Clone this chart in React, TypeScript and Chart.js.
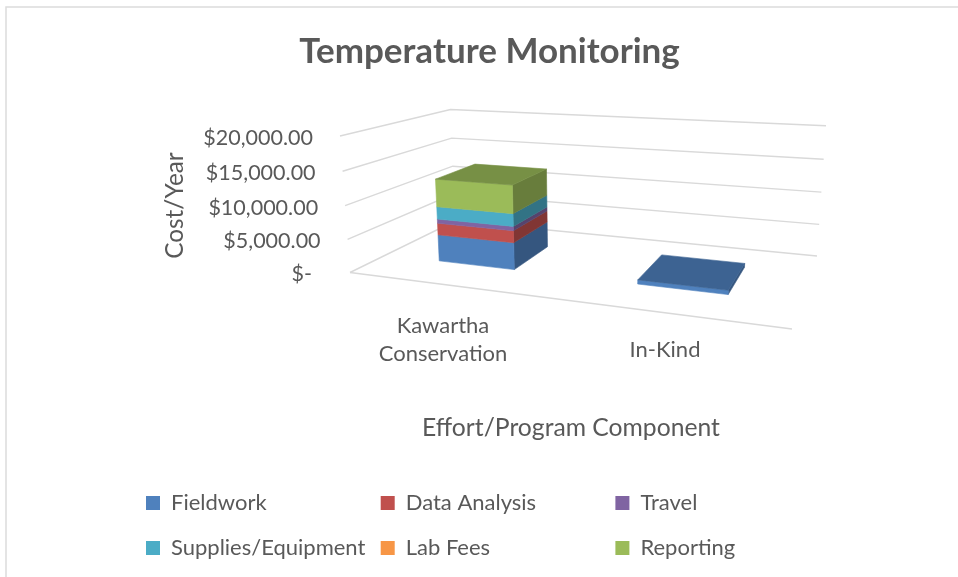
import { useEffect, useRef } from "react";
import { Chart, registerables } from "chart.js";

Chart.register(...registerables);

const categories: (string | string[])[] = [["Kawartha", "Conservation"], "In-Kind"];
const fieldwork = [4100, 600];
const dataAnalysis = [1800, 0];
const travel = [650, 0];
const supplies = [1900, 0];
const labFees = [0, 0];
const reporting = [4200, 0];
const yTicks = [0, 5000, 10000, 15000, 20000];
const legendColumns = 3;

const GRID = "#d9d9d9";
const TEXT = "#595959";
const FONT = "Lato";

type P = [number, number];
const floorCorners: P[] = [[350, 272.5], [792, 329], [817, 256], [455, 221]];
const verticalAxis = [-23.6, -141.9, -0.04];
const depthRange: P = [0.3, 0.7];

function cameraFrom(q: P[]) {
  const [[x0, y0], [x1, y1], [x2, y2], [x3, y3]] = q;
  const dx1 = x1 - x2, dx2 = x3 - x2, sx = x0 - x1 + x2 - x3;
  const dy1 = y1 - y2, dy2 = y3 - y2, sy = y0 - y1 + y2 - y3;
  const den = dx1 * dy2 - dx2 * dy1;
  const g = (sx * dy2 - dx2 * sy) / den;
  const h = (dx1 * sy - sx * dy1) / den;
  const a = x1 - x0 + g * x1, b = x3 - x0 + h * x3;
  const d = y1 - y0 + g * y1, e = y3 - y0 + h * y3;
  const [cx, cy, ci] = verticalAxis;
  return (u: number, w: number, v: number): P => {
    const k = g * u + h * w + 1 + ci * v;
    return [(a * u + b * w + x0 + cx * v) / k, (d * u + e * w + y0 + cy * v) / k];
  };
}
const project = cameraFrom(floorCorners);

function shade(hex: string, k: number) {
  const n = parseInt(hex.slice(1), 16);
  const c = [(n >> 16) & 255, (n >> 8) & 255, n & 255].map((x) => Math.round(x * k));
  return `rgb(${c[0]},${c[1]},${c[2]})`;
}

function poly(ctx: CanvasRenderingContext2D, pts: P[], fill: string) {
  ctx.beginPath();
  pts.forEach((p, i) => (i ? ctx.lineTo(p[0], p[1]) : ctx.moveTo(p[0], p[1])));
  ctx.closePath();
  ctx.fillStyle = fill;
  ctx.strokeStyle = fill;
  ctx.lineWidth = 0.6;
  ctx.fill();
  ctx.stroke();
}

const perspectivePlugin = {
  id: "perspective",
  afterLayout(chart: any) {
    // centre the chart title and the category-axis title where the reference has them
    chart.titleBlock.left += 21;
    chart.titleBlock.right += 21;
    chart.scales.x.left += 17;
    chart.scales.x.right += 17;
  },
  beforeDraw(chart: any) {
    const { ctx, width, height, chartArea: a, scales } = chart;
    ctx.save();
    ctx.fillStyle = "#ffffff";
    ctx.fillRect(0, 0, width, height);
    ctx.strokeStyle = "#dcdcdc";
    ctx.lineWidth = 1.5;
    ctx.beginPath();
    ctx.moveTo(width, 7);
    ctx.lineTo(6, 7);
    ctx.lineTo(6, height);
    ctx.stroke();
    ctx.restore();
    // value labels follow the leaning front edge of the left wall
    scales.y.getLabelItems(a).forEach((item: any, i: number) => {
      const v = (a.bottom - scales.y.getPixelForValue(scales.y.ticks[i].value)) / (a.bottom - a.top);
      const p = project(0, 0, v);
      item.options.translation = [p[0] - 27, p[1] + 2];
    });
    // the single-line category label sits on the front-edge slope, lower than the first
    const xItems = scales.x.getLabelItems(a);
    const last = xItems[xItems.length - 1];
    last.options.translation = [last.options.translation[0], last.options.translation[1] + 24];
  },
  beforeDatasetsDraw(chart: any) {
    const { ctx, chartArea: a, scales } = chart;
    const toU = (x: number) => (x - a.left) / (a.right - a.left);
    const toV = (y: number) => (a.bottom - y) / (a.bottom - a.top);
    ctx.save();
    // walls and floor
    ctx.strokeStyle = GRID;
    ctx.lineWidth = 1.4;
    scales.y.ticks.forEach((t: any) => {
      const v = toV(scales.y.getPixelForValue(t.value));
      const pts = [project(0, 0, v), project(0, 1, v), project(1, 1, v)];
      ctx.beginPath();
      pts.forEach((p, i) => (i ? ctx.lineTo(p[0], p[1]) : ctx.moveTo(p[0], p[1])));
      ctx.stroke();
    });
    const fl = project(0, 0, 0);
    const fr = project(1, 0, 0);
    ctx.beginPath();
    ctx.moveTo(fl[0], fl[1]);
    ctx.lineTo(fr[0], fr[1]);
    ctx.stroke();
    // bars
    const [w0, w1] = depthRange;
    const dsCount = chart.data.datasets.length;
    chart.data.labels.forEach((_: any, i: number) => {
      let last = -1;
      for (let k = 0; k < dsCount; k++) if (chart.data.datasets[k].data[i] > 0) last = k;
      for (let k = 0; k < dsCount; k++) {
        if (!(chart.data.datasets[k].data[i] > 0)) continue;
        const el = chart.getDatasetMeta(k).data[i];
        const color = chart.data.datasets[k].backgroundColor;
        const u0 = toU(el.x - el.width / 2);
        const u1 = toU(el.x + el.width / 2);
        const vb = toV(el.base);
        const vt = toV(el.y);
        poly(ctx, [project(u1, w0, vb), project(u1, w1, vb), project(u1, w1, vt), project(u1, w0, vt)], shade(color, 0.67));
        poly(ctx, [project(u0, w0, vb), project(u1, w0, vb), project(u1, w0, vt), project(u0, w0, vt)], color);
        if (k === last) {
          poly(ctx, [project(u0, w0, vt), project(u1, w0, vt), project(u1, w1, vt), project(u0, w1, vt)], shade(color, 0.77));
        }
      }
    });
    ctx.restore();
    return false;
  },
  afterDraw(chart: any) {
    const { ctx } = chart;
    ctx.save();
    ctx.font = `22px ${FONT}`;
    ctx.textBaseline = "middle";
    chart.data.datasets.forEach((ds: any, i: number) => {
      const col = i % legendColumns;
      const row = Math.floor(i / legendColumns);
      const x = 146 + col * 234.7;
      const y = 503 + row * 45;
      ctx.fillStyle = ds.backgroundColor;
      ctx.fillRect(x, y - 7, 14, 14);
      ctx.fillStyle = TEXT;
      ctx.fillText(ds.label, x + 25, y);
    });
    ctx.restore();
  },
};

export default function App() {
  const ref = useRef<HTMLCanvasElement>(null);
  useEffect(() => {
    const mk = (label: string, data: number[], backgroundColor: string) => ({ label, data, backgroundColor });
    const chart = new Chart(ref.current!, {
      type: "bar",
      data: {
        labels: categories as any,
        datasets: [
          mk("Fieldwork", fieldwork, "#4f81bd"),
          mk("Data Analysis", dataAnalysis, "#c0504d"),
          mk("Travel", travel, "#8064a2"),
          mk("Supplies/Equipment", supplies, "#4bacc6"),
          mk("Lab Fees", labFees, "#f79646"),
          mk("Reporting", reporting, "#9bbb59"),
        ],
      },
      options: {
        responsive: false,
        animation: false,
        layout: { padding: { left: 161, right: 182, top: 0, bottom: 0 } },
        datasets: { bar: { categoryPercentage: 1, barPercentage: 0.4 } },
        plugins: {
          legend: { display: false },
          tooltip: { enabled: false },
          title: {
            display: true,
            text: "Temperature Monitoring",
            color: TEXT,
            font: { family: FONT, size: 35, weight: "bold", lineHeight: 1.2 },
            padding: { top: 31, bottom: 64 },
          },
        },
        scales: {
          x: {
            stacked: true,
            grid: { display: false },
            border: { display: false },
            afterFit(s: any) {
              s.height = 577 - 274;
            },
            ticks: {
              color: TEXT,
              autoSkip: false,
              maxRotation: 0,
              minRotation: 0,
              padding: 30,
              font: { family: FONT, size: 22, lineHeight: "28px" },
            },
            title: {
              display: true,
              text: "Effort/Program Component",
              color: TEXT,
              font: { family: FONT, size: 24.7, lineHeight: "30px" },
              padding: { top: 60, bottom: 134 },
            },
          },
          y: {
            stacked: true,
            min: 0,
            max: 20000,
            grid: { display: false },
            border: { display: false },
            afterBuildTicks(s: any) {
              s.ticks = yTicks.map((value) => ({ value }));
            },
            afterFit(s: any) {
              s.width = 332 - 161;
            },
            ticks: {
              color: TEXT,
              padding: 17,
              font: { family: FONT, size: 21.5 },
              callback: (v: any) =>
                Number(v) === 0 ? "$-  " : "$" + Number(v).toLocaleString("en-US", { minimumFractionDigits: 2 }),
            },
            title: {
              display: true,
              text: "Cost/Year",
              color: TEXT,
              font: { family: FONT, size: 24.3 },
              padding: { top: 0, bottom: 0 },
            },
          },
        },
      },
      plugins: [perspectivePlugin],
    } as any);
    return () => chart.destroy();
  }, []);
  return (
    <div style={{ position: "fixed", left: 0, top: 0, width: 958, height: 577, overflow: "hidden" }}>
      <canvas ref={ref} width={958} height={577} style={{ display: "block" }} />
    </div>
  );
}
